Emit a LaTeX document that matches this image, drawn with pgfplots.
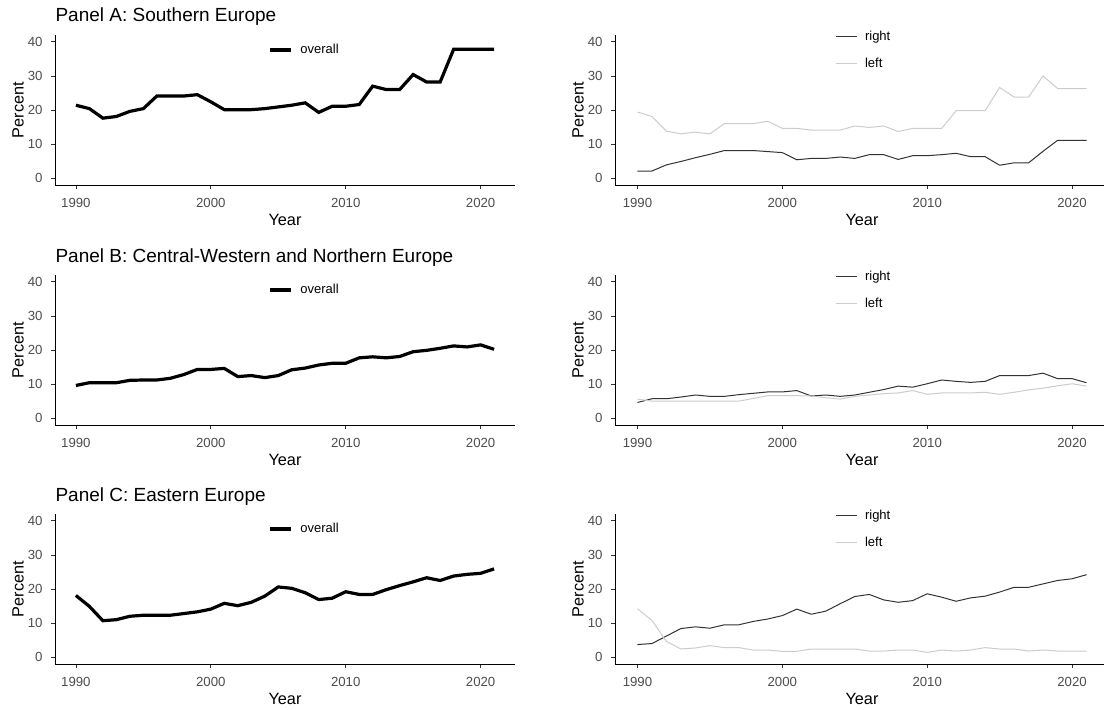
\documentclass[border=0pt]{standalone}
\usepackage{pgfplots}
\usepackage{pgfplotstable}
\pgfplotsset{compat=1.18}
\usepackage{fontspec}
\setmainfont{Liberation Sans}
\definecolor{rightc}{HTML}{333333}
\definecolor{leftc}{HTML}{CCCCCC}
\definecolor{ticklab}{HTML}{4D4D4D}

\pgfplotstableread{
year overall right left
1990 21.4 2.1 19.4
1991 20.4 2.1 18.1
1992 17.6 3.9 13.8
1993 18.1 4.9 13.0
1994 19.6 6.0 13.5
1995 20.4 7.0 13.0
1996 24.1 8.1 16.0
1997 24.1 8.1 16.0
1998 24.1 8.1 16.0
1999 24.5 7.8 16.7
2000 22.4 7.5 14.6
2001 20.1 5.4 14.6
2002 20.1 5.8 14.1
2003 20.1 5.8 14.1
2004 20.4 6.2 14.1
2005 20.9 5.8 15.3
2006 21.4 6.9 14.9
2007 22.1 6.9 15.3
2008 19.3 5.5 13.7
2009 21.1 6.6 14.6
2010 21.1 6.6 14.6
2011 21.6 6.9 14.6
2012 27.0 7.3 19.8
2013 26.0 6.3 19.8
2014 26.0 6.3 19.8
2015 30.4 3.8 26.6
2016 28.2 4.5 23.8
2017 28.2 4.5 23.8
2018 37.8 7.9 30.0
2019 37.8 11.1 26.3
2020 37.8 11.1 26.3
2021 37.8 11.1 26.3
}\tabA

\pgfplotstableread{
year overall right left
1990 9.6 4.6 5.6
1991 10.4 5.7 5.0
1992 10.4 5.7 5.0
1993 10.4 6.2 5.0
1994 11.1 6.8 5.0
1995 11.2 6.4 5.0
1996 11.2 6.4 5.0
1997 11.7 6.9 5.0
1998 12.8 7.3 5.8
1999 14.3 7.7 6.6
2000 14.3 7.7 6.6
2001 14.6 8.1 6.6
2002 12.2 6.5 6.5
2003 12.5 6.8 6.0
2004 11.9 6.4 5.6
2005 12.5 6.8 6.4
2006 14.2 7.6 6.8
2007 14.7 8.4 7.2
2008 15.6 9.4 7.4
2009 16.1 9.1 8.1
2010 16.1 10.1 7.0
2011 17.7 11.2 7.4
2012 18.0 10.8 7.4
2013 17.7 10.5 7.4
2014 18.1 10.8 7.6
2015 19.5 12.5 7.0
2016 19.9 12.5 7.6
2017 20.5 12.5 8.3
2018 21.2 13.2 8.8
2019 20.9 11.6 9.5
2020 21.5 11.6 10.1
2021 20.2 10.4 9.4
}\tabB

\pgfplotstableread{
year overall right left
1990 18.1 3.7 14.2
1991 14.9 4.0 10.8
1992 10.7 6.2 4.6
1993 11.0 8.4 2.4
1994 12.0 8.9 2.7
1995 12.3 8.5 3.4
1996 12.3 9.5 2.8
1997 12.3 9.5 2.8
1998 12.8 10.5 2.1
1999 13.3 11.2 2.1
2000 14.1 12.2 1.7
2001 15.8 14.1 1.7
2002 15.1 12.6 2.4
2003 16.1 13.5 2.4
2004 17.9 15.7 2.4
2005 20.6 17.8 2.4
2006 20.2 18.4 1.8
2007 18.9 16.8 1.8
2008 16.9 16.1 2.1
2009 17.3 16.6 2.1
2010 19.2 18.6 1.4
2011 18.4 17.6 2.1
2012 18.4 16.4 1.8
2013 19.8 17.4 2.1
2014 21.0 17.9 2.8
2015 22.1 19.1 2.4
2016 23.3 20.5 2.4
2017 22.5 20.5 1.8
2018 23.8 21.5 2.1
2019 24.3 22.5 1.8
2020 24.6 23.0 1.8
2021 25.9 24.2 1.8
}\tabC

\pgfplotsset{
  panel/.style={
    scale only axis, height=150pt,
    xmin=1988.45, xmax=2022.55, ymin=-2, ymax=42,
    xtick={1990,2000,2010,2020}, ytick={0,10,20,30,40},
    axis x line*=bottom, axis y line*=left,
    axis line style={black, line width=0.9pt, -},
    tick style={color=rightc, line width=0.8pt},
    tick align=outside, major tick length=4pt,
    /pgf/number format/assume math mode=true,
    /pgf/number format/1000 sep={},
    tick label style={font=\fontsize{13.2}{15}\selectfont, text=ticklab},
    xticklabel style={anchor=center, yshift=-14pt},
    yticklabel style={anchor=east, xshift=-5pt},
    xlabel={Year}, ylabel={Percent},
    every axis x label/.style={at={(axis description cs:0.5,0)}, anchor=center, yshift=-35pt, font=\fontsize{16.3}{19}\selectfont},
    every axis y label/.style={at={(axis description cs:0,0.5)}, xshift=-37pt, rotate=90, anchor=center, font=\fontsize{16.3}{19}\selectfont},
    legend cell align=left,
    legend image code/.code={\draw[#1] (0pt,0pt) -- (21pt,0pt);},
    legend style={draw=none, fill=none, inner sep=0pt, font=\fontsize{13}{15}\selectfont, row sep=13pt,
      /tikz/every odd column/.append style={column sep=6pt}},
    every axis title/.style={at={(axis description cs:0,1)}, anchor=base west, xshift=-3pt, yshift=13pt, font=\fontsize{19}{22}\selectfont},
  },
  lpanel/.style={panel, width=460pt,
    legend style={at={(axis description cs:0.463,0.9)}, anchor=west}},
  rpanel/.style={panel, width=494pt,
    legend style={at={(axis description cs:0.445,0.9)}, anchor=west}},
  ov/.style={black, line width=3.2pt},
  rt/.style={rightc, line width=1pt},
  lt/.style={leftc, line width=1pt},
}

\begin{document}
\begin{tikzpicture}[x=1pt,y=1pt]
\useasboundingbox (0,0) rectangle (1104,710);

% Panel A
\begin{axis}[lpanel, at={(55pt,525pt)}, anchor=south west, title={Panel A: Southern Europe}]
\addplot[ov] table[x=year,y=overall] {\tabA};
\addlegendentry{overall}
\end{axis}
\begin{axis}[rpanel, at={(615pt,525pt)}, anchor=south west]
\addplot[rt] table[x=year,y=right] {\tabA};
\addlegendentry{right}
\addplot[lt] table[x=year,y=left] {\tabA};
\addlegendentry{left}
\end{axis}

% Panel B
\begin{axis}[lpanel, at={(55pt,285pt)}, anchor=south west, title={Panel B: Central-Western and Northern Europe}]
\addplot[ov] table[x=year,y=overall] {\tabB};
\addlegendentry{overall}
\end{axis}
\begin{axis}[rpanel, at={(615pt,285pt)}, anchor=south west]
\addplot[rt] table[x=year,y=right] {\tabB};
\addlegendentry{right}
\addplot[lt] table[x=year,y=left] {\tabB};
\addlegendentry{left}
\end{axis}

% Panel C
\begin{axis}[lpanel, at={(55pt,46pt)}, anchor=south west, title={Panel C: Eastern Europe}]
\addplot[ov] table[x=year,y=overall] {\tabC};
\addlegendentry{overall}
\end{axis}
\begin{axis}[rpanel, at={(615pt,46pt)}, anchor=south west]
\addplot[rt] table[x=year,y=right] {\tabC};
\addlegendentry{right}
\addplot[lt] table[x=year,y=left] {\tabC};
\addlegendentry{left}
\end{axis}
\end{tikzpicture}
\end{document}
